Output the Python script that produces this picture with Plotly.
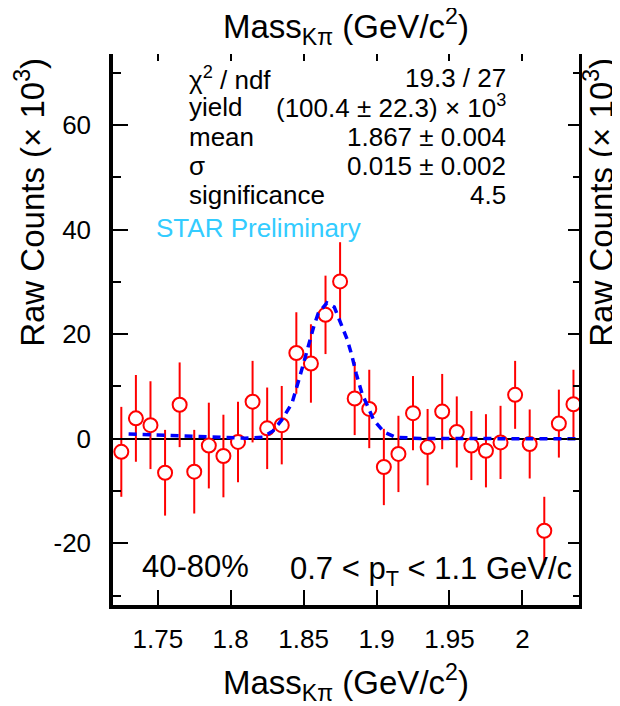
import plotly.graph_objects as go

# invariant mass bins (GeV/c^2) and raw counts (x 10^3)
mass = [1.725, 1.735, 1.745, 1.755, 1.765, 1.775, 1.785, 1.795,
        1.805, 1.815, 1.825, 1.835, 1.845, 1.855, 1.865, 1.875,
        1.885, 1.895, 1.905, 1.915, 1.925, 1.935, 1.945, 1.955,
        1.965, 1.975, 1.985, 1.995, 2.005, 2.015, 2.025, 2.035]
counts = [-2.5, 3.9, 2.6, -6.5, 6.5, -6.3, -1.3, -3.3,
          -0.6, 7.1, 2.0, 2.6, 16.4, 14.4, 23.7, 30.1,
          7.7, 5.7, -5.4, -2.9, 4.9, -1.6, 5.2, 1.3,
          -1.3, -2.3, -0.7, 8.4, -1.0, -17.6, 2.9, 6.6]
errors = [8.6, 8.3, 8.4, 8.2, 8.1, 8.0, 8.2, 7.9,
          7.7, 7.8, 7.8, 7.5, 7.8, 7.5, 7.5, 7.5,
          7.0, 7.5, 7.3, 7.3, 7.1, 7.3, 7.2, 6.8,
          6.6, 7.0, 7.0, 6.5, 6.6, 6.5, 6.5, 6.6]

# fit curve, sampled by eye
fit_mass = [1.730, 1.750, 1.770, 1.790, 1.810, 1.822, 1.829, 1.835,
            1.842, 1.847, 1.853, 1.857, 1.860, 1.866, 1.871, 1.876,
            1.880, 1.883, 1.886, 1.890, 1.898, 1.905, 1.913, 1.930,
            1.960, 2.000, 2.040]
fit_counts = [0.9, 0.7, 0.45, 0.25, 0.1, 0.3, 1.5, 3.6,
              6.8, 11.5, 17.9, 21.5, 24.0, 26.0, 25.2, 21.8,
              18.9, 16.0, 12.5, 8.7, 3.6, 1.3, 0.3, 0.05,
              0.0, 0.0, 0.0]

x_ticks = [1.75, 1.8, 1.85, 1.9, 1.95, 2.0]
x_labels = ["1.75", "1.8", "1.85", "1.9", "1.95", "2"]
y_ticks = [-20, 0, 20, 40, 60]
y_labels = ["-20", "0", "20", "40", "60"]

stat_names = ["χ<sup>2</sup> / ndf", "yield", "mean", "σ", "significance"]
stat_values = ["19.3 / 27", "(100.4 ± 22.3) × 10<sup>3</sup>",
               "1.867 ± 0.004", "0.015 ± 0.002", "4.5"]
stat_rows = [0.956, 0.904, 0.850, 0.797, 0.744]

FONT = "Liberation Sans, Arial, sans-serif"
x_range = [1.7193, 2.0388]
y_range = [-31.8, 73.6]

fig = go.Figure()

fig.add_trace(go.Scatter(
    x=mass, y=counts,
    mode="markers",
    error_y=dict(type="data", array=errors, color="red", thickness=2, width=0),
    marker=dict(symbol="circle", size=14, color="white",
                line=dict(color="red", width=2)),
))

# fit drawn on the overlaid axes so it sits above the points
fig.add_trace(go.Scatter(
    x=fit_mass, y=fit_counts, xaxis="x2", yaxis="y2",
    mode="lines", line=dict(color="blue", width=3.5, dash="8px,6px"),
))

# page body adds an 8px margin, so the figure is 8px smaller on each axis
fig.update_layout(
    width=612, height=698,
    margin=dict(l=105, r=41, t=46, b=101),
    plot_bgcolor="white", paper_bgcolor="white",
    showlegend=False,
    font=dict(family=FONT, size=26, color="black"),
    xaxis=dict(
        range=x_range, tickvals=x_ticks, ticktext=x_labels,
        ticks="inside", ticklen=15, tickwidth=1.5, tickcolor="black",
        showline=True, linewidth=3.5, linecolor="black",
        showgrid=False, zeroline=False, ticklabelstandoff=8,
    ),
    xaxis2=dict(
        range=x_range, matches="x", overlaying="x", side="top", anchor="y",
        tickvals=x_ticks, ticks="inside", ticklen=7, tickwidth=1.5,
        tickcolor="black", showticklabels=False, showline=False,
        showgrid=False, zeroline=False,
    ),
    yaxis=dict(
        range=y_range, tickvals=y_ticks, ticktext=y_labels,
        ticks="inside", ticklen=15, tickwidth=1.5, tickcolor="black",
        minor=dict(dtick=10, tick0=0, ticks="inside", ticklen=8, tickwidth=1.5,
                   tickcolor="black"),
        showline=True, linewidth=3.5, linecolor="black",
        showgrid=False, zeroline=True, zerolinecolor="black",
        zerolinewidth=1.5, ticklabelstandoff=13,
    ),
    yaxis2=dict(
        range=y_range, matches="y", overlaying="y", side="right", anchor="x",
        tickvals=y_ticks, ticks="inside", ticklen=11, tickwidth=1.5,
        tickcolor="black",
        minor=dict(dtick=10, tick0=0, ticks="inside", ticklen=6, tickwidth=1.5,
                   tickcolor="black"),
        showticklabels=False, showline=True, linewidth=3, linecolor="black",
        showgrid=False, zeroline=False,
    ),
)

title_font = dict(family=FONT, size=33, color="black")
mass_title = "Mass<sub>Kπ</sub> (GeV/c<sup>2</sup>)"
counts_title = "Raw Counts (× 10<sup>3</sup>)"

fig.add_annotation(text=mass_title, xref="paper", yref="paper", x=0.5, y=-0.141,
                   showarrow=False, font=title_font, xanchor="center", yanchor="middle")
fig.add_annotation(text=mass_title, xref="paper", yref="paper", x=0.5, y=1.05,
                   showarrow=False, font=title_font, xanchor="center", yanchor="middle")
fig.add_annotation(text=counts_title, xref="paper", yref="paper", x=-0.178, y=0.73,
                   textangle=-90, showarrow=False, font=title_font,
                   xanchor="center", yanchor="middle")
fig.add_annotation(text=counts_title, xref="paper", yref="paper", x=1.043, y=0.73,
                   textangle=-90, showarrow=False, font=title_font,
                   xanchor="center", yanchor="middle")

for name, value, row in zip(stat_names, stat_values, stat_rows):
    fig.add_annotation(text=name, xref="paper", yref="paper", x=0.1586, y=row,
                       showarrow=False, xanchor="left", yanchor="middle",
                       font=dict(family=FONT, size=26, color="black"))
    fig.add_annotation(text=value, xref="paper", yref="paper", x=0.8478, y=row,
                       showarrow=False, xanchor="right", yanchor="middle",
                       font=dict(family=FONT, size=26, color="black"))

fig.add_annotation(text="STAR Preliminary", xref="paper", yref="paper",
                   x=0.087, y=0.684, showarrow=False, xanchor="left", yanchor="middle",
                   font=dict(family=FONT, size=26, color="rgb(51,204,255)"))
fig.add_annotation(text="40-80%", xref="paper", yref="paper", x=0.058, y=0.069,
                   showarrow=False, xanchor="left", yanchor="middle",
                   font=dict(family=FONT, size=31, color="black"))
fig.add_annotation(text="0.7 &lt; p<sub>T</sub> &lt; 1.1 GeV/c", xref="paper", yref="paper",
                   x=0.9887, y=0.062, showarrow=False, xanchor="right", yanchor="middle",
                   font=dict(family=FONT, size=31, color="black"))

fig.write_html("out.html")
